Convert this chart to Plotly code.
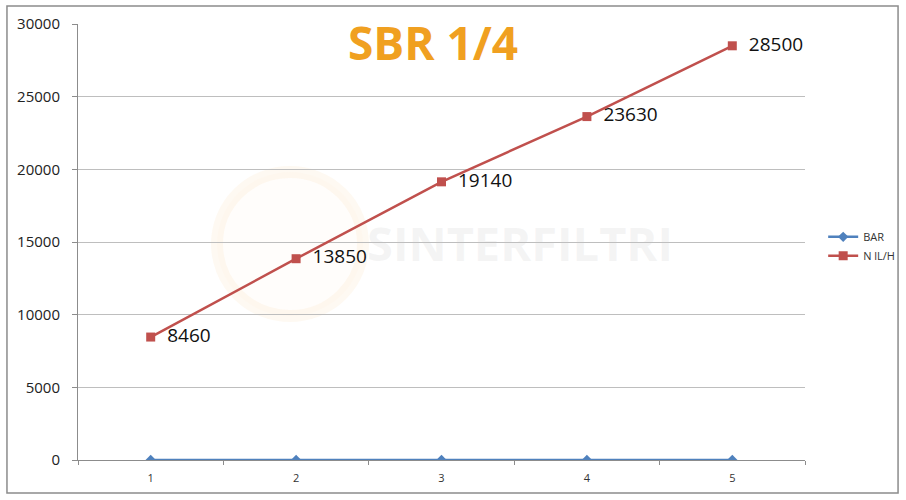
import plotly.graph_objects as go

categories = [1, 2, 3, 4, 5]
bar_values = [1, 2, 3, 4, 5]
flow_values = [8460, 13850, 19140, 23630, 28500]
title_text = "SBR 1/4"
series_names = ["BAR", "N lL/H"]

fig = go.Figure()
fig.add_trace(go.Scatter(
    x=categories, y=bar_values, name=series_names[0], mode="lines+markers",
    line=dict(color="#4F81BD", width=2.5),
    marker=dict(symbol="diamond", size=8, color="#4F81BD"),
))
fig.add_trace(go.Scatter(
    x=categories, y=flow_values, name=series_names[1], mode="lines+markers+text",
    line=dict(color="#C0504D", width=2.5),
    marker=dict(symbol="square", size=9, color="#C0504D"),
    text=["\u00a0\u00a0" + str(v) for v in flow_values], textposition="middle right",
    textfont=dict(family="Open Sans", size=19, color="#111111"),
))

# outer border
fig.add_shape(type="rect", xref="paper", yref="paper",
              x0=-0.0977, x1=1.128, y0=-0.0757, y1=1.0413,
              line=dict(color="#8C8C8C", width=1.5), layer="below")
# faint watermark
fig.add_shape(type="circle", xref="paper", yref="paper",
              x0=(217 - 78) / 727, x1=(363 - 78) / 727,
              y0=(460 - 316) / 436, y1=(460 - 172) / 436,
              line=dict(color="rgba(245,205,150,0.12)", width=12),
              fillcolor="rgba(250,230,200,0.08)", layer="below")
fig.add_annotation(text="SINTERFILTRI", xref="paper", yref="paper",
                   x=(520 - 78) / 727, y=(460 - 243) / 436, showarrow=False,
                   xanchor="center", yanchor="middle",
                   font=dict(family="Open Sans", size=47, color="rgba(200,200,200,0.2)", weight="bold"))
# title
fig.add_annotation(text="<b>" + title_text + "</b>", xref="paper", yref="paper",
                   x=(433 - 78) / 727, y=(460 - 42) / 436, showarrow=False,
                   xanchor="center", yanchor="middle",
                   font=dict(family="Open Sans", size=46, color="#F0A020"))

fig.update_layout(
    width=906, height=500,
    margin=dict(l=78, r=101, t=24, b=40, autoexpand=False),
    paper_bgcolor="white", plot_bgcolor="white",
    font=dict(family="Open Sans", color="#333333"),
    showlegend=True,
    legend=dict(x=1.025, y=0.49, xanchor="left", yanchor="middle",
                font=dict(size=11, color="#333333"), bgcolor="rgba(0,0,0,0)"),
    xaxis=dict(range=[0.5, 5.5], tickvals=categories, ticktext=[str(c) for c in categories],
               showgrid=False, zeroline=False, showline=True, linecolor="#8C8C8C", linewidth=1,
               ticks="", tickfont=dict(size=11, color="#333333"), ticklabelstandoff=8,
               minor=dict(tickvals=[0.5, 1.5, 2.5, 3.5, 4.5, 5.5], ticks="outside",
                          ticklen=4, tickcolor="#8C8C8C", showgrid=False)),
    yaxis=dict(range=[0, 30000], dtick=5000, tickformat="d", showgrid=True, gridcolor="#BEBEBE", gridwidth=1,
               zeroline=False, showline=True, linecolor="#8C8C8C", linewidth=1,
               ticks="outside", ticklen=5, tickcolor="#8C8C8C", ticklabelstandoff=9,
               tickfont=dict(size=15, color="#222222")),
)

fig.write_html("out.html", config={"displayModeBar": False},
               post_script="document.body.style.margin='0px';")
